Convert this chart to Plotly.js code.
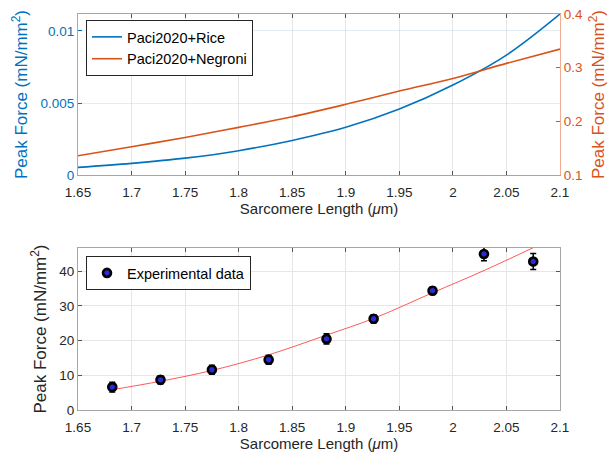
<!DOCTYPE html>
<html>
<head>
<meta charset="utf-8">
<script src="https://cdn.plot.ly/plotly-3.0.1.min.js"></script>
<style>html,body{margin:0;padding:0;background:#fff;}#chart{width:613px;height:460px;}</style>
</head>
<body>
<div id="chart"></div>
<script>
// Model curves (top panel)
const slModel = [1.65, 1.7, 1.75, 1.8, 1.85, 1.9, 1.95, 2.0, 2.05, 2.1];
const riceForce = [0.00053, 0.00081, 0.00117, 0.00169, 0.0024, 0.00331, 0.00458, 0.00625, 0.00833, 0.01118];
const negroniForce = [0.136, 0.1527, 0.170, 0.1888, 0.2086, 0.2317, 0.2564, 0.280, 0.308, 0.3346];

// Experimental data (bottom panel)
const slExp = [1.682, 1.727, 1.775, 1.828, 1.882, 1.926, 1.981, 2.029, 2.075];
const expForce = [6.6, 8.7, 11.6, 14.5, 20.5, 26.3, 34.4, 45.0, 42.8];
const expErr = [1.4, 1.2, 1.3, 1.3, 1.5, 1.2, 1.1, 2.0, 2.3];
const fitForce = [5.85, 8.3, 11.4, 15.9, 21.6, 26.4, 33.8, 40.2, 46.8];

const xTicks = [1.65, 1.7, 1.75, 1.8, 1.85, 1.9, 1.95, 2.0, 2.05, 2.1];
const xTickText = ['1.65', '1.7', '1.75', '1.8', '1.85', '1.9', '1.95', '2', '2.05', '2.1'];

const BLUE = '#0072BD', ORANGE = '#D95319', DARK = '#262626';
const FONT = 'Liberation Sans, Arial, sans-serif';
const xTitle = 'Sarcomere Length (<i>μ</i>m)';
const yTitle = 'Peak Force (mN/mm<sup>2</sup>)';

const traces = [
  {x: slModel, y: riceForce, type: 'scatter', mode: 'lines', name: 'Paci2020+Rice',
   line: {color: BLUE, width: 1.6, shape: 'spline'}, xaxis: 'x', yaxis: 'y', legend: 'legend'},
  {x: slModel, y: negroniForce, type: 'scatter', mode: 'lines', name: 'Paci2020+Negroni',
   line: {color: ORANGE, width: 1.6, shape: 'spline'}, xaxis: 'x', yaxis: 'y2', legend: 'legend'},
  {x: slExp, y: fitForce, type: 'scatter', mode: 'lines', showlegend: false,
   line: {color: 'rgba(255,60,60,0.85)', width: 1, shape: 'spline'}, xaxis: 'x2', yaxis: 'y3'},
  {x: slExp, y: expForce, type: 'scatter', mode: 'markers', name: 'Experimental data',
   error_y: {type: 'data', array: expErr, visible: true, color: '#000', thickness: 1.5, width: 3},
   marker: {symbol: 'circle', size: 8, color: '#2a2ad8', line: {color: '#000', width: 2.6}},
   xaxis: 'x2', yaxis: 'y3', legend: 'legend2'}
];

const layout = {
  width: 613, height: 460,
  margin: {l: 78, r: 53, t: 14, b: 50},
  paper_bgcolor: '#fff', plot_bgcolor: '#fff',
  font: {family: FONT, size: 13, color: DARK},
  xaxis: {domain: [0, 1], anchor: 'y', range: [1.65, 2.1], tickvals: xTicks, ticktext: xTickText,
    showgrid: true, gridcolor: '#e6e6e6', zeroline: false,
    showline: true, linecolor: '#a6a6a6', mirror: 'ticks', ticks: 'inside', ticklen: 4, tickcolor: '#555',
    ticklabelstandoff: 5,
    tickfont: {size: 13.5, color: DARK},
    title: {text: xTitle, font: {size: 15, color: DARK}, standoff: 4}},
  yaxis: {domain: [0.5934, 1], anchor: 'x', range: [0, 0.01118], tickvals: [0, 0.005, 0.01], ticktext: ['0', '0.005', '0.01'],
    showgrid: true, gridcolor: 'rgba(0,114,189,0.12)', zeroline: false,
    showline: true, linecolor: '#7fb6de', ticks: 'inside', ticklen: 4, tickcolor: BLUE,
    tickfont: {size: 13.5, color: BLUE},
    title: {text: yTitle, font: {size: 17, color: BLUE}, standoff: 8}},
  yaxis2: {overlaying: 'y', side: 'right', anchor: 'x', range: [0.1, 0.4], tickvals: [0.1, 0.2, 0.3, 0.4],
    ticktext: ['0.1', '0.2', '0.3', '0.4'], showgrid: false, zeroline: false,
    showline: true, linecolor: '#f0ad94', ticks: 'inside', ticklen: 4, tickcolor: ORANGE,
    tickfont: {size: 13.5, color: ORANGE},
    title: {text: yTitle, font: {size: 17, color: ORANGE}, standoff: 10}},
  xaxis2: {domain: [0, 1], anchor: 'y3', range: [1.65, 2.1], tickvals: xTicks, ticktext: xTickText,
    showgrid: true, gridcolor: '#e6e6e6', zeroline: false,
    showline: true, linecolor: '#a6a6a6', mirror: 'ticks', ticks: 'inside', ticklen: 4, tickcolor: '#555',
    ticklabelstandoff: 5,
    tickfont: {size: 13.5, color: DARK},
    title: {text: xTitle, font: {size: 15, color: DARK}, standoff: 4}},
  yaxis3: {domain: [0, 0.409], anchor: 'x2', range: [0, 46.7], tickvals: [0, 10, 20, 30, 40],
    showgrid: true, gridcolor: '#e6e6e6', zeroline: false,
    showline: true, linecolor: '#a6a6a6', mirror: 'ticks', ticks: 'inside', ticklen: 4, tickcolor: '#555',
    tickfont: {size: 13.5, color: DARK},
    title: {text: yTitle, font: {size: 17, color: DARK}, standoff: 8}},
  legend: {x: 0.0166, y: 0.985, xanchor: 'left', yanchor: 'top', bgcolor: '#fff',
    bordercolor: DARK, borderwidth: 1, font: {size: 14.5, color: '#000'}, tracegroupgap: 0, itemwidth: 30},
  legend2: {x: 0.0166, y: 0.389, xanchor: 'left', yanchor: 'top', bgcolor: '#fff',
    bordercolor: DARK, borderwidth: 1, font: {size: 14.5, color: '#000'}, itemwidth: 30},
  showlegend: true
};

Plotly.newPlot('chart', traces, layout, {displayModeBar: false, staticPlot: true});
</script>
</body>
</html>
